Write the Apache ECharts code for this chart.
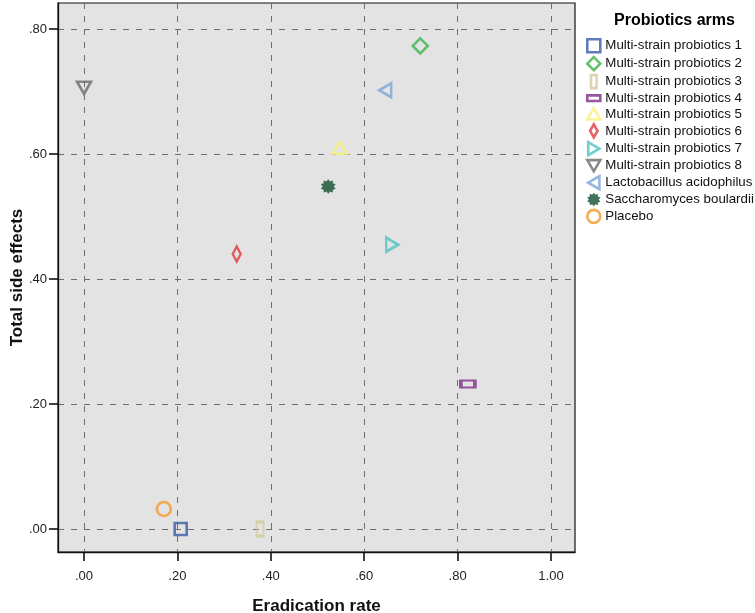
<!DOCTYPE html>
<html><head><meta charset="utf-8">
<script src="https://cdn.jsdelivr.net/npm/echarts@6/dist/echarts.min.js"></script>
<style>html,body{margin:0;padding:0;background:#fff}#c{width:755px;height:613px}</style>
</head><body><div id="c"></div>
<script>
const arms = ['Multi-strain probiotics 1','Multi-strain probiotics 2','Multi-strain probiotics 3','Multi-strain probiotics 4','Multi-strain probiotics 5','Multi-strain probiotics 6','Multi-strain probiotics 7','Multi-strain probiotics 8','Lactobacillus acidophilus','Saccharomyces boulardii','Placebo'];
const eradicationRate = [0.207, 0.720, 0.377, 0.822, 0.548, 0.327, 0.660, 0.000, 0.645, 0.523, 0.171];
const totalSideEffects = [0.000, 0.773, 0.000, 0.232, 0.610, 0.440, 0.455, 0.706, 0.702, 0.548, 0.032];
const armColors = ['#3b5ba8','#3fb34a','#d2cc9c','#7d2c85','#f6f07a','#e2383c','#4fc3c2','#6b6b6b','#7aa4d6','#12502f','#f29a2c'];
const xTicks = [0, 0.2, 0.4, 0.6, 0.8, 1.0];
const yTicks = [0, 0.2, 0.4, 0.6, 0.8];

function starPath(n, r1, r2){
  let d = '';
  for (let i = 0; i < 2*n; i++){
    const r = i%2 ? r2 : r1;
    const a = Math.PI*i/n - Math.PI/2;
    d += (i? 'L':'M') + (50 + r*Math.cos(a)).toFixed(2) + ',' + (50 + r*Math.sin(a)).toFixed(2);
  }
  return 'path://' + d + 'Z';
}
const STAR = starPath(10,50,36);
const shapes = [
  {symbol:'rect', size:[12,12], rot:0, fill:false, icon:'path://M0,0h12v12h-12z'},
  {symbol:'diamond', size:[15,15], rot:0, fill:false, icon:'path://M7,0L14,7L7,14L0,7Z'},
  {symbol:'rect', size:[7,14], rot:0, fill:false, icon:'path://M0,0h6v14h-6z'},
  {symbol:'rect', size:[14,7], rot:0, fill:false, icon:'path://M0,0h14v6h-14z'},
  {symbol:'triangle', size:[14,12], rot:0, fill:false, icon:'path://M7,0L14,12L0,12Z'},
  {symbol:'diamond', size:[8,15], rot:0, fill:false, icon:'path://M4,0L8,7L4,14L0,7Z'},
  {symbol:'triangle', size:[14,12], rot:-90, fill:false, icon:'path://M0,0L12,7L0,14Z'},
  {symbol:'triangle', size:[14,12], rot:180, fill:false, icon:'path://M0,0L14,0L7,12Z'},
  {symbol:'triangle', size:[14,12], rot:90, fill:false, icon:'path://M12,0L0,7L12,14Z'},
  {symbol:STAR, size:[14,14], rot:0, fill:true, icon:STAR},
  {symbol:'circle', size:[14,14], rot:0, fill:false, icon:'circle'}
];
const fmt = v => { const s = v.toFixed(2); return s.startsWith('0') ? s.slice(1) : s; };

const styleOf = i => shapes[i].fill ? {color: armColors[i], borderColor: armColors[i], borderWidth: 0.5}
                            : {color: 'rgba(0,0,0,0)', borderColor: armColors[i], borderWidth: 2.6};
const series = arms.map((name,i)=>({
  name, type:'scatter',
  data:[[eradicationRate[i], totalSideEffects[i]]],
  symbol: shapes[i].symbol, symbolSize: shapes[i].size, symbolRotate: shapes[i].rot,
  itemStyle: styleOf(i),
  emphasis:{disabled:true}, z: 5
}));

const chart = echarts.init(document.getElementById('c'), null, {renderer:'canvas'});
chart.setOption({
  animation:false,
  backgroundColor:'#ffffff',
  textStyle:{fontFamily:'Liberation Sans, Arial, sans-serif'},
  title:{text:'Probiotics arms', left:609, top:8, textStyle:{fontSize:16, fontWeight:'bold', color:'#000', fontFamily:'Liberation Sans, Arial, sans-serif'}},
  legend:{
    orient:'vertical', left:581, top:33, itemWidth:13, itemHeight:13, itemGap:2.3,
    selectedMode:false, symbolRotate:0,
    textStyle:{fontSize:13.3, color:'#111', fontFamily:'Liberation Sans, Arial, sans-serif'},
    data: arms.map((n,i)=>({name:n, icon:shapes[i].icon, itemStyle: styleOf(i)}))
  },
  grid:{left:58, top:3, width:517, height:549, show:true, containLabel:false, outerBoundsMode:'none', backgroundColor:'#e3e3e3', borderColor:'#111', borderWidth:1.2},
  xAxis:{
    type:'value', min:-0.0557, max:1.0514,
    name:'Eradication rate', nameLocation:'middle', nameGap:46, nameMoveOverlap:false,
    nameTextStyle:{fontSize:17, fontWeight:'bold', color:'#111'},
    axisLine:{show:true, onZero:false, lineStyle:{color:'#111', width:1.3}},
    axisTick:{show:true, customValues:xTicks, length:9, lineStyle:{color:'#111', width:1.6}},
    axisLabel:{customValues:xTicks, formatter:fmt, fontSize:13, color:'#222', margin:18},
    splitLine:{show:true, lineStyle:{color:'#6e6e6e', type:[6,7], width:1}}
  },
  yAxis:{
    type:'value', min:-0.0368, max:0.8416,
    name:'Total side effects', nameLocation:'middle', nameGap:32, nameMoveOverlap:false,
    nameTextStyle:{fontSize:17, fontWeight:'bold', color:'#111'},
    axisLine:{show:true, onZero:false, lineStyle:{color:'#111', width:1.3}},
    axisTick:{show:true, customValues:yTicks, length:9, lineStyle:{color:'#111', width:1.6}},
    axisLabel:{customValues:yTicks, formatter:fmt, fontSize:13, color:'#222', margin:11},
    splitLine:{show:true, lineStyle:{color:'#6e6e6e', type:[6,7], width:1}}
  },
  series
});
</script></body></html>
